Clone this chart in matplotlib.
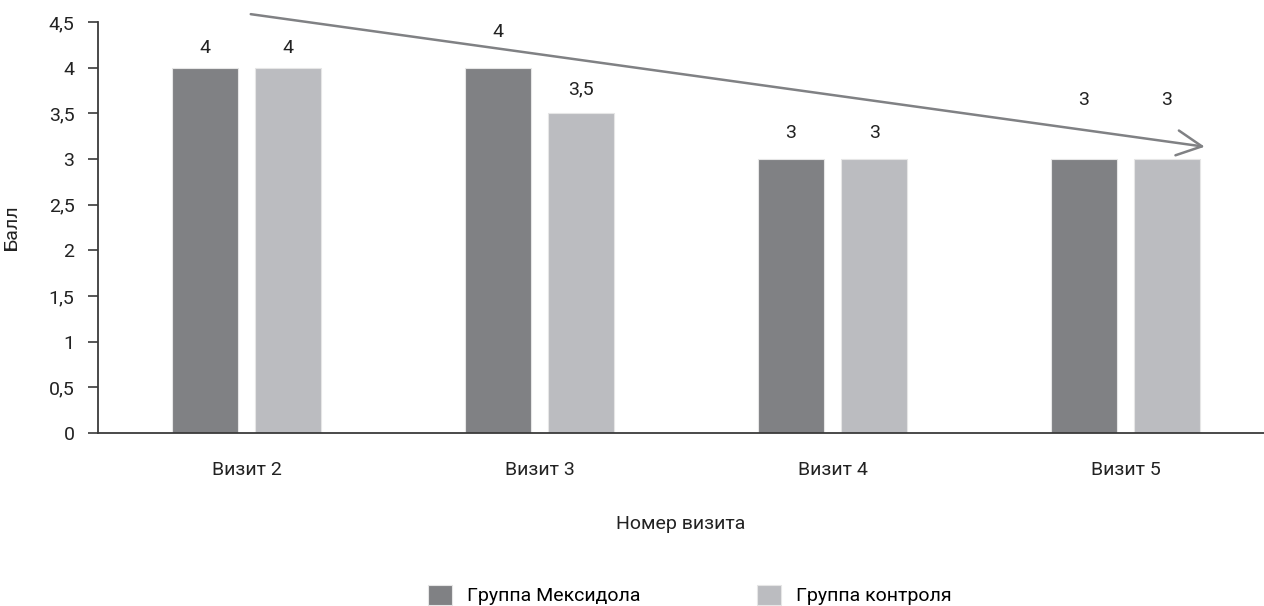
import matplotlib.pyplot as plt
import numpy as np
from matplotlib.patches import FancyArrowPatch

visits = ["Визит 2", "Визит 3", "Визит 4", "Визит 5"]
mexidol = [4, 4, 3, 3]
control = [4, 3.5, 3, 3]
mexidol_labels = ["4", "4", "3", "3"]
control_labels = ["4", "3,5", "3", "3"]
# heights where the value labels sit (as printed in the source figure)
mexidol_label_y = [4.22, 4.39, 3.28, 3.65]
control_label_y = [4.22, 3.76, 3.28, 3.65]

yticks = [0, 0.5, 1, 1.5, 2, 2.5, 3, 3.5, 4, 4.5]
ytick_labels = ["0", "0,5", "1", "1,5", "2", "2,5", "3", "3,5", "4", "4,5"]

dark = "#808184"
light = "#bbbcc0"
axis_col = "#3a3a3a"
txt = "#222222"
fs = 14

plt.rcParams["font.family"] = ["Roboto", "DejaVu Sans"]
plt.rcParams["font.size"] = fs

fig = plt.figure(figsize=(12.64, 6.06), dpi=100)
ax = fig.add_axes([98 / 1264, 173 / 606, 1166 / 1264, 411 / 606])

x = np.arange(len(visits))
w = 0.225
off = 0.142
b1 = ax.bar(x - off, mexidol, w, color=dark, edgecolor="#e6e6e6", linewidth=0.8,
            label="Группа Мексидола")
b2 = ax.bar(x + off, control, w, color=light, edgecolor="#e6e6e6", linewidth=0.8,
            label="Группа контроля")

for i in range(len(visits)):
    ax.text(x[i] - off, mexidol_label_y[i], mexidol_labels[i], ha="center", va="center",
            fontsize=fs, color=txt)
    ax.text(x[i] + off, control_label_y[i], control_labels[i], ha="center", va="center",
            fontsize=fs, color=txt)

# trend arrow
arrow = FancyArrowPatch((0.005, 4.59), (3.28, 3.13), arrowstyle="->", mutation_scale=45,
                        color=dark, linewidth=1.8, clip_on=False)
ax.add_patch(arrow)

ax.set_xlim(-0.507, 3.473)
ax.set_ylim(0, 4.5)
ax.set_yticks(yticks)
ax.set_yticklabels(ytick_labels, fontsize=fs, color=txt)
ax.set_xticks(x)
ax.set_xticklabels(visits, fontsize=fs, color=txt)
ax.tick_params(axis="x", length=0, pad=20)
ax.tick_params(axis="y", length=7, width=1.2, color=axis_col, pad=10)

for s in ["top", "right"]:
    ax.spines[s].set_visible(False)
for s in ["left", "bottom"]:
    ax.spines[s].set_color(axis_col)
    ax.spines[s].set_linewidth(1.3)

ax.set_xlabel("Номер визита", fontsize=fs, color=txt, labelpad=26)
ax.set_ylabel("Балл", fontsize=fs, color=txt, labelpad=20)

fig.legend(handles=[b1, b2], loc="center", bbox_to_anchor=(690 / 1264, 11 / 606),
           ncol=2, frameon=False, handlelength=1.2, handleheight=1.2,
           handletextpad=0.8, columnspacing=6.0, fontsize=fs)

fig.savefig("out.png", dpi=100)
